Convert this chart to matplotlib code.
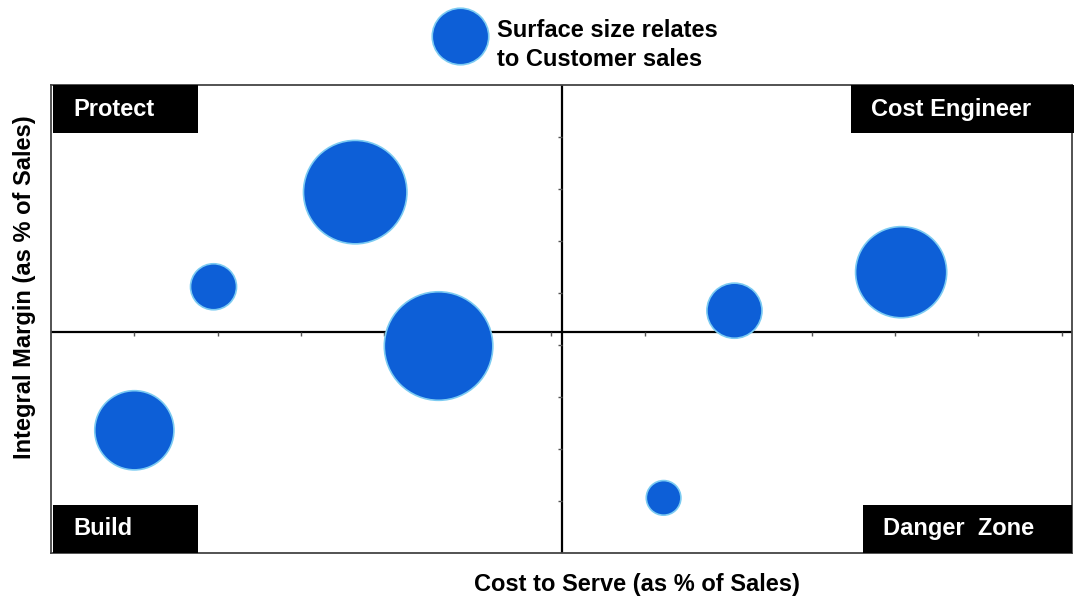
import numpy as np
import matplotlib.pyplot as plt
from matplotlib.patches import Rectangle

plt.rcParams['font.family'] = ['Liberation Sans', 'DejaVu Sans']
plt.rcParams['font.weight'] = 'bold'

# customers: cost to serve (% of sales), integral margin (% of sales), sales (k)
cost_to_serve = [7.3, 3.9, 9.3, 2.0, 16.4, 20.4, 14.7]
margin = [14.7, 5.6, -0.1, -8.2, 3.3, 7.0, -14.7]
sales = [268, 53, 295, 157, 76, 208, 30]
legend_sales = 80

cost_mid = 12.25
margin_mid = 1.25
x_ticks = [2, 4, 6, 8, 10, 12, 14.25, 16.25, 18.25, 20.25, 22.25, 24.25]
y_ticks = [-15, -10, -5, 0, 5, 10, 15, 20]

quadrants = [
    # label, x0, y0, width (axes fraction)
    ("Protect", 0.002, 0.897, 0.142),
    ("Cost Engineer", 0.7835, 0.897, 0.2184),
    ("Build", 0.002, 0.0, 0.142),
    ("Danger  Zone", 0.7953, 0.0, 0.2047),
]

BLUE = '#0D5FD7'
EDGE = '#7CCBF2'
SIZE_SCALE = 20.7  # points^2 per unit of sales

W, H = 1074, 596
fig = plt.figure(figsize=(W / 100, H / 100), dpi=100)
ax = fig.add_axes([51 / W, (H - 553) / H, (1072 - 51) / W, (553 - 85) / H])
ax.set_xlim(0, 24.5)
ax.set_ylim(-20, 25)
ax.set_xticks([])
ax.set_yticks([])
for sp in ax.spines.values():
    sp.set_color('#444444')
    sp.set_linewidth(1.3)

# quadrant cross
ax.axhline(margin_mid, color='black', lw=1.6, zorder=2)
ax.axvline(cost_mid, color='black', lw=1.6, zorder=2)
ax.plot(x_ticks, [margin_mid] * len(x_ticks), linestyle='none', marker=3,
        markersize=3, color='#555555', zorder=2)
ax.plot([cost_mid] * len(y_ticks), y_ticks, linestyle='none', marker=0,
        markersize=3, color='#555555', zorder=2)

ax.scatter(cost_to_serve, margin, s=np.array(sales) * SIZE_SCALE,
           color=BLUE, edgecolors=EDGE, linewidths=1.2, zorder=3)

# black quadrant tags
box_h = 0.1026
for label, x0, y0, w in quadrants:
    ax.add_patch(Rectangle((x0, y0), w, box_h, transform=ax.transAxes,
                           facecolor='black', edgecolor='none',
                           clip_on=False, zorder=4))
    ax.text(x0 + 20 / 1021, y0 + box_h / 2, label, transform=ax.transAxes,
            color='white', fontsize=17, fontweight='bold', va='center',
            ha='left', zorder=5)

# size legend
ax.scatter([460 / W], [1 - 36 / H], s=legend_sales * SIZE_SCALE,
           transform=fig.transFigure, color=BLUE, edgecolors=EDGE,
           linewidths=1.2, clip_on=False, zorder=6)
fig.text(497 / W, 1 - 45 / H, "Surface size relates\nto Customer sales",
         fontsize=17, fontweight='bold', va='center', ha='left',
         linespacing=1.3)

fig.text(637 / W, 1 - 585 / H, "Cost to Serve (as % of Sales)",
         fontsize=17, fontweight='bold', ha='center', va='center')
fig.text(25 / W, 1 - 287 / H, "Integral Margin (as % of Sales)",
         fontsize=17, fontweight='bold', ha='center', va='center',
         rotation=90)

fig.savefig('out.png', dpi=100)
